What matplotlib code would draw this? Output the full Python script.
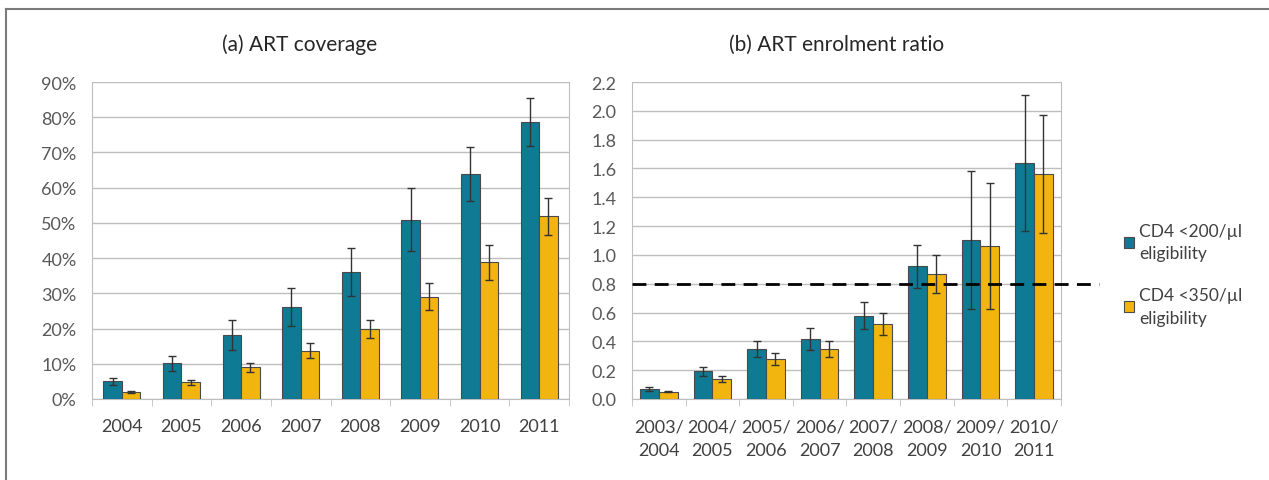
import matplotlib
matplotlib.use("Agg")
import matplotlib.pyplot as plt
import numpy as np
from matplotlib.lines import Line2D
from matplotlib.ticker import FixedLocator, FuncFormatter

plt.rcParams['font.family'] = ['Lato', 'DejaVu Sans']

# (a) ART coverage, per cent
years = ["2004", "2005", "2006", "2007", "2008", "2009", "2010", "2011"]
cov_200 = [5.0, 10.1, 18.1, 26.2, 36.1, 50.9, 63.8, 78.6]
cov_200_err = [1.0, 2.2, 4.3, 5.4, 6.9, 9.0, 7.7, 6.9]
cov_350 = [2.1, 4.7, 9.0, 13.7, 19.8, 29.1, 38.8, 51.9]
cov_350_err = [0.3, 0.7, 1.2, 2.1, 2.6, 3.7, 4.9, 5.3]

# (b) ART enrolment ratio
periods = ["2003/\n2004", "2004/\n2005", "2005/\n2006", "2006/\n2007",
           "2007/\n2008", "2008/\n2009", "2009/\n2010", "2010/\n2011"]
ratio_200 = [0.069, 0.192, 0.347, 0.416, 0.578, 0.92, 1.103, 1.637]
ratio_200_err = [0.012, 0.032, 0.053, 0.076, 0.092, 0.15, 0.477, 0.472]
ratio_350 = [0.051, 0.139, 0.277, 0.347, 0.52, 0.865, 1.059, 1.563]
ratio_350_err = [0.004, 0.023, 0.042, 0.058, 0.074, 0.132, 0.437, 0.411]
threshold = 0.8

labels = ["CD4 <200/µl\neligibility", "CD4 <350/µl\neligibility"]
blue = "#0F7A93"
gold = "#F2B50F"
edge = "#4a4a4a"
grid_c = "#BEBEBE"

fig = plt.figure(figsize=(12.69, 4.81), dpi=100)
ax1 = fig.add_axes([0.0725, 0.1684, 0.3759, 0.659])
ax2 = fig.add_axes([0.498, 0.1684, 0.338, 0.659])


def draw(ax, cats, v1, e1, v2, e2, w):
    x = np.arange(len(cats))
    b1 = ax.bar(x - w / 2, v1, w, color=blue, edgecolor=edge, linewidth=0.8,
                yerr=e1, error_kw=dict(ecolor="#333333", elinewidth=1, capsize=3, capthick=1), zorder=3)
    b2 = ax.bar(x + w / 2, v2, w, color=gold, edgecolor=edge, linewidth=0.8,
                yerr=e2, error_kw=dict(ecolor="#333333", elinewidth=1, capsize=3, capthick=1), zorder=3)
    ax.set_xlim(-0.5, len(cats) - 0.5)
    ax.set_xticks(x)
    ax.set_xticklabels(cats, color="#404040", fontsize=13, linespacing=1.55)
    ax.xaxis.set_minor_locator(FixedLocator(np.arange(-0.5, len(cats), 1)))
    ax.tick_params(axis="x", which="major", length=0, pad=14)
    ax.tick_params(axis="x", which="minor", length=5, color=grid_c, direction="out")
    ax.tick_params(axis="y", length=0, labelcolor="#595959", labelsize=13, pad=11)
    ax.grid(axis="y", color=grid_c, linewidth=1, zorder=0)
    for s in ax.spines.values():
        s.set_color(grid_c)
    ax.spines["top"].set_visible(False)
    return b1, b2


b1, b2 = draw(ax1, years, cov_200, cov_200_err, cov_350, cov_350_err, 0.31)
ax1.set_ylim(0, 90)
ax1.set_yticks(np.arange(0, 91, 10))
ax1.yaxis.set_major_formatter(FuncFormatter(lambda v, p: f"{v:.0f}%"))

draw(ax2, periods, ratio_200, ratio_200_err, ratio_350, ratio_350_err, 0.35)
ax2.set_ylim(0, 2.2)
ax2.set_yticks(np.arange(0, 2.21, 0.2))
ax2.yaxis.set_major_formatter(FuncFormatter(lambda v, p: f"{v:.1f}"))
ax2.plot([0.0, 1.09], [threshold, threshold], transform=ax2.get_yaxis_transform(),
         color="black", linestyle=(0, (5, 3)), linewidth=2, clip_on=False, zorder=4)

fig.text(300 / 1269, 1 - 45 / 481, "(a) ART coverage", ha="center", va="center",
         fontsize=15, color="#262626")
fig.text(837 / 1269, 1 - 45 / 481, "(b) ART enrolment ratio", ha="center", va="center",
         fontsize=15, color="#262626")

leg = fig.legend([b1, b2], labels, loc="upper left", bbox_to_anchor=(1108 / 1269, 1 - 208 / 481),
                 frameon=False, fontsize=12.5, handlelength=0.6, handleheight=0.6,
                 handletextpad=0.3, labelspacing=1.5)
for t in leg.get_texts():
    t.set_color("#404040")
    t.set_linespacing(1.5)

# outer frame (top and left edges)
fig.add_artist(Line2D([6 / 1269, 1], [1 - 10 / 481, 1 - 10 / 481], color="#7a7a7a", linewidth=1.5))
fig.add_artist(Line2D([6 / 1269, 6 / 1269], [0, 1 - 10 / 481], color="#7a7a7a", linewidth=1.5))

fig.savefig("out.png", dpi=100)
